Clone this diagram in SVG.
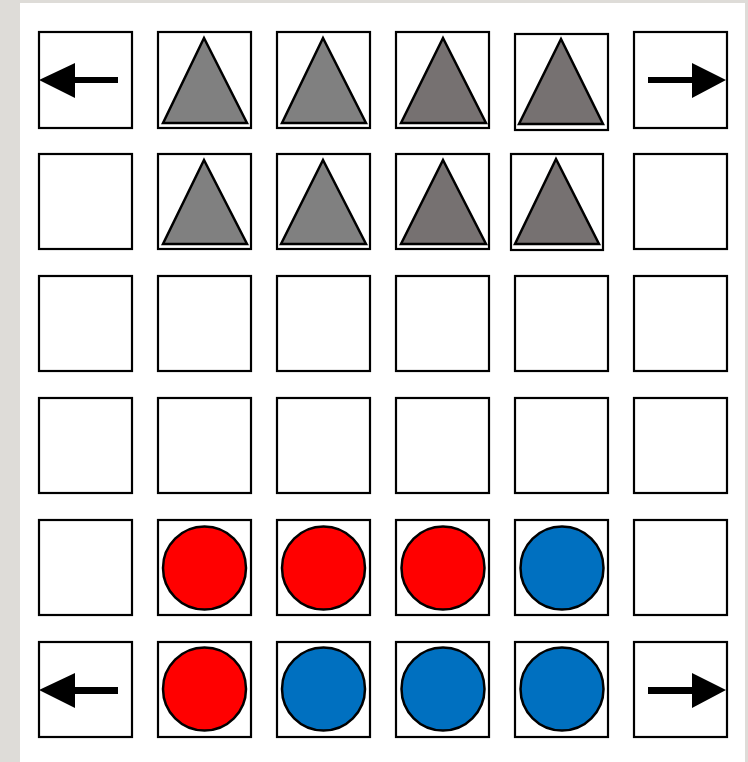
<svg xmlns="http://www.w3.org/2000/svg" width="748" height="762" viewBox="0 0 748 762">
<style>
.cell{fill:#fff;stroke:#000;stroke-width:2.2}
.tg{fill:#808080;stroke:#000;stroke-width:2.5;stroke-linejoin:miter}
.td{fill:#767171;stroke:#000;stroke-width:2.5;stroke-linejoin:miter}
.red{fill:#ff0000;stroke:#000;stroke-width:2.5}
.blue{fill:#0070c0;stroke:#000;stroke-width:2.5}
.arr{fill:#000}
</style>
<rect x="0" y="0" width="748" height="762" fill="#dedcd8"/>
<rect x="20" y="3" width="725" height="759" fill="#fff"/>
<g id="r1">
<g id="c11"><rect class="cell" x="39" y="32" width="93" height="96"/><path class="arr" d="M39,80 L75,63 L75,77 L118,77 L118,83 L75,83 L75,98 Z"/></g>
<g id="c12"><rect class="cell" x="158" y="32" width="93" height="96"/><polygon class="tg" points="204,38 247,123 163,123"/></g>
<g id="c13"><rect class="cell" x="277" y="32" width="93" height="96"/><polygon class="tg" points="323,38 366,123 282,123"/></g>
<g id="c14"><rect class="cell" x="396" y="32" width="93" height="96"/><polygon class="td" points="443,38 486,123 401,123"/></g>
<g id="c15"><rect class="cell" x="515" y="34" width="93" height="96"/><polygon class="td" points="561,39 603,124 519,124"/></g>
<g id="c16"><rect class="cell" x="634" y="32" width="93" height="96"/><path class="arr" d="M726,80 L692,63 L692,77 L648,77 L648,83 L692,83 L692,98 Z"/></g>
</g>
<g id="r2">
<g id="c21"><rect class="cell" x="39" y="154" width="93" height="95"/></g>
<g id="c22"><rect class="cell" x="158" y="154" width="93" height="95"/><polygon class="tg" points="204,160 247,244 163,244"/></g>
<g id="c23"><rect class="cell" x="277" y="154" width="93" height="95"/><polygon class="tg" points="323,160 366,244 281,244"/></g>
<g id="c24"><rect class="cell" x="396" y="154" width="93" height="95"/><polygon class="td" points="443,160 486,244 401,244"/></g>
<g id="c25"><rect class="cell" x="511" y="154" width="92" height="96"/><polygon class="td" points="556,159 599,244 515,244"/></g>
<g id="c26"><rect class="cell" x="634" y="154" width="93" height="95"/></g>
</g>
<g id="r3">
<g id="c31"><rect class="cell" x="39" y="276" width="93" height="95"/></g>
<g id="c32"><rect class="cell" x="158" y="276" width="93" height="95"/></g>
<g id="c33"><rect class="cell" x="277" y="276" width="93" height="95"/></g>
<g id="c34"><rect class="cell" x="396" y="276" width="93" height="95"/></g>
<g id="c35"><rect class="cell" x="515" y="276" width="93" height="95"/></g>
<g id="c36"><rect class="cell" x="634" y="276" width="93" height="95"/></g>
</g>
<g id="r4">
<g id="c41"><rect class="cell" x="39" y="398" width="93" height="95"/></g>
<g id="c42"><rect class="cell" x="158" y="398" width="93" height="95"/></g>
<g id="c43"><rect class="cell" x="277" y="398" width="93" height="95"/></g>
<g id="c44"><rect class="cell" x="396" y="398" width="93" height="95"/></g>
<g id="c45"><rect class="cell" x="515" y="398" width="93" height="95"/></g>
<g id="c46"><rect class="cell" x="634" y="398" width="93" height="95"/></g>
</g>
<g id="r5">
<g id="c51"><rect class="cell" x="39" y="520" width="93" height="95"/></g>
<g id="c52"><rect class="cell" x="158" y="520" width="93" height="95"/><circle class="red" cx="204.5" cy="568" r="41.5"/></g>
<g id="c53"><rect class="cell" x="277" y="520" width="93" height="95"/><circle class="red" cx="323.5" cy="568" r="41.5"/></g>
<g id="c54"><rect class="cell" x="396" y="520" width="93" height="95"/><circle class="red" cx="443" cy="568" r="41.5"/></g>
<g id="c55"><rect class="cell" x="515" y="520" width="93" height="95"/><circle class="blue" cx="562" cy="568" r="41.5"/></g>
<g id="c56"><rect class="cell" x="634" y="520" width="93" height="95"/></g>
</g>
<g id="r6">
<g id="c61"><rect class="cell" x="39" y="642" width="93" height="95"/><path class="arr" d="M39,690 L75,673 L75,687 L118,687 L118,694 L75,694 L75,708 Z"/></g>
<g id="c62"><rect class="cell" x="158" y="642" width="93" height="95"/><circle class="red" cx="204.5" cy="689" r="41.5"/></g>
<g id="c63"><rect class="cell" x="277" y="642" width="93" height="95"/><circle class="blue" cx="323.5" cy="689" r="41.5"/></g>
<g id="c64"><rect class="cell" x="396" y="642" width="93" height="95"/><circle class="blue" cx="443" cy="689" r="41.5"/></g>
<g id="c65"><rect class="cell" x="515" y="642" width="93" height="95"/><circle class="blue" cx="562" cy="689" r="41.5"/></g>
<g id="c66"><rect class="cell" x="634" y="642" width="93" height="95"/><path class="arr" d="M726,690 L692,673 L692,687 L648,687 L648,694 L692,694 L692,708 Z"/></g>
</g>
<g id="connectors"/>
</svg>
